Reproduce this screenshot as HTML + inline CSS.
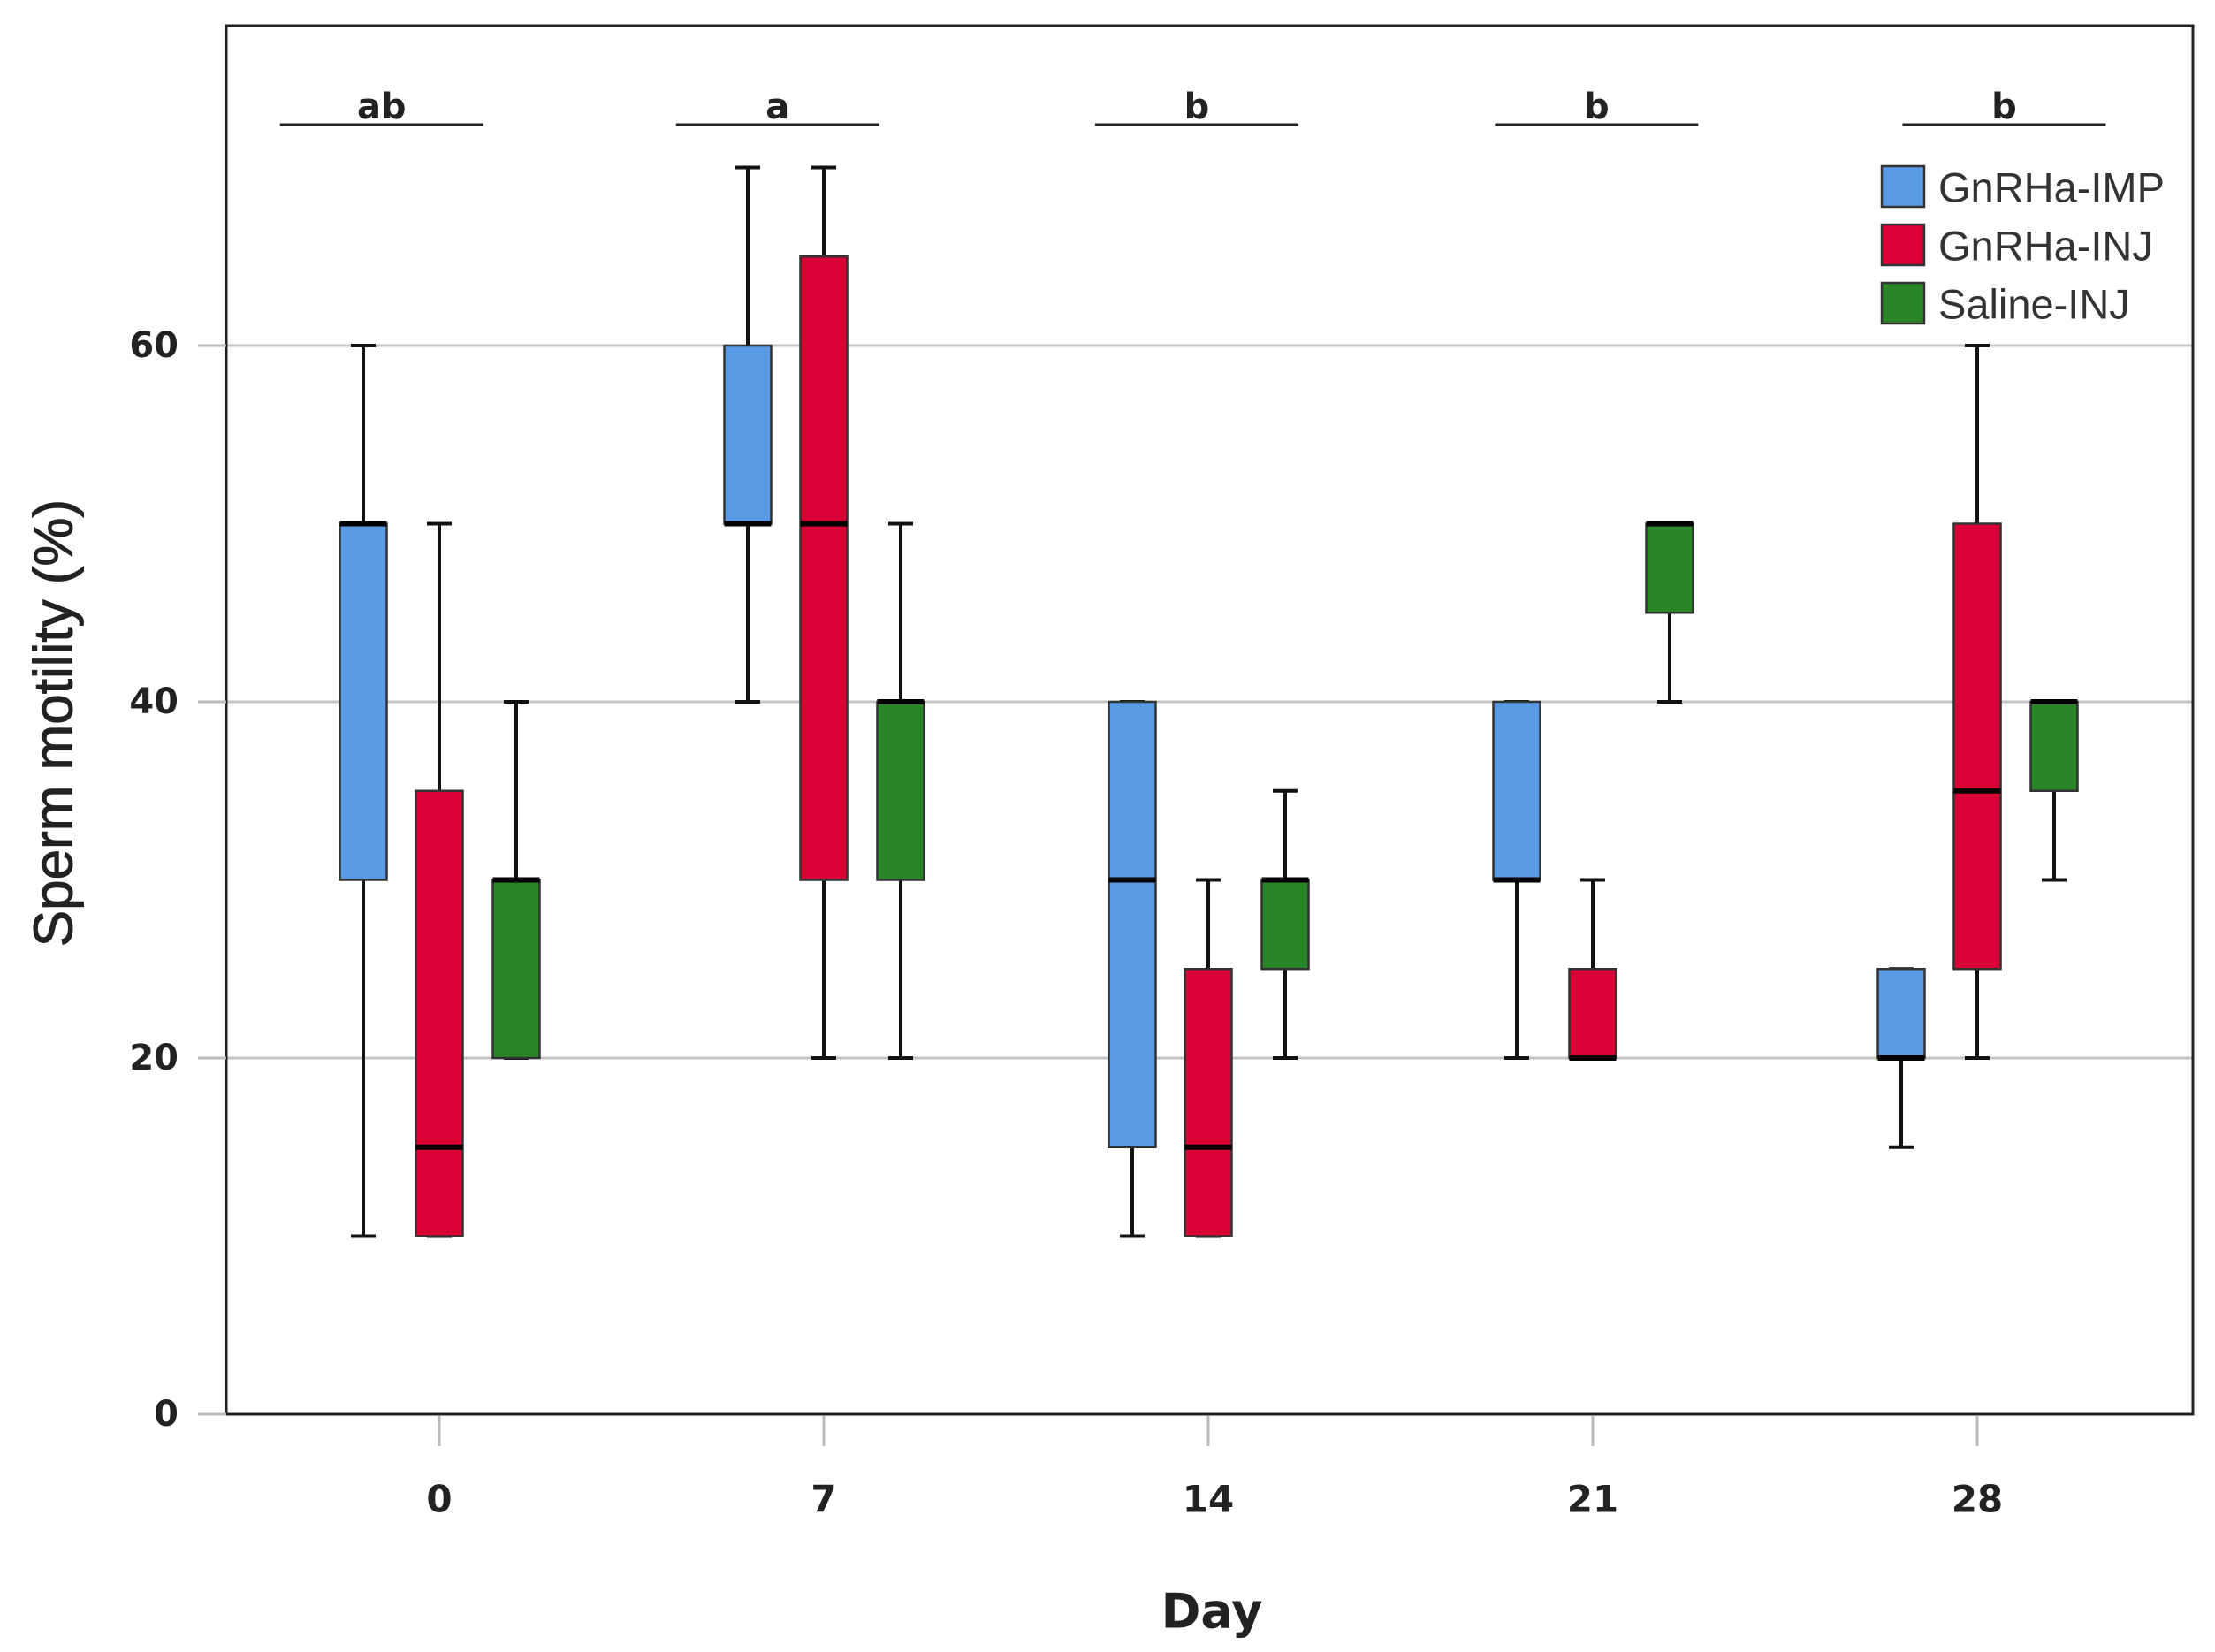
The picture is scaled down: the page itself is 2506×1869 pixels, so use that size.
<!DOCTYPE html>
<html><head><meta charset="utf-8"><style>
html,body{margin:0;padding:0;background:#fff;}
svg{display:block;}
</style></head><body>
<svg id="chart" width="2506" height="1869" viewBox="0 0 2506 1869" xmlns="http://www.w3.org/2000/svg">
<rect x="0" y="0" width="2506" height="1869" fill="#fff"/>
<g id="grid"></g>
<g id="marks"></g>
<rect x="256" y="29" width="2225" height="1571" fill="none" stroke="#222" stroke-width="3"/>
<g id="axes"></g>
<text x="61" y="818" transform="rotate(-90 61 818)" text-anchor="middle" dominant-baseline="central" font-family="Liberation Sans, sans-serif" font-size="62" fill="#222" stroke="#222" stroke-width="1">Sperm motility (%)</text>
<text x="1371" y="1823" text-anchor="middle" dominant-baseline="central" font-family="DejaVu Sans, sans-serif" font-weight="bold" font-size="54" fill="#222">Day</text>
<g id="legend"></g>
</svg>
<script>
const days = ["0","7","14","21","28"];
const groups = ["GnRHa-IMP","GnRHa-INJ","Saline-INJ"];
const colors = ["#5b9be6","#d90036","#2a8528"];
// [low, q1, median, q3, high] per day
const impStats = [[10,30,50,50,60],[40,50,50,60,70],[10,15,30,40,40],[20,30,30,40,40],[15,20,20,25,25]];
const injStats = [[10,10,15,35,50],[20,30,50,65,70],[10,10,15,25,30],[20,20,20,25,30],[20,25,35,50,60]];
const salStats = [[20,20,30,30,40],[20,30,40,40,50],[20,25,30,30,35],[40,45,50,50,50],[30,35,40,40,40]];
const yTicks = [0,20,40,60];
const sigLetters = ["ab","a","b","b","b"];
const sigCenters = [-0.15,0.88,1.97,3.01,4.07];

const NS="http://www.w3.org/2000/svg";
const y = v => 1600 - v*20.15;
const x = i => 497 + i*435;
const offs=[-86,0,87], bw=53;
function el(tag, attrs, parent){const e=document.createElementNS(NS,tag);for(const k in attrs)e.setAttribute(k,attrs[k]);parent.appendChild(e);return e;}
const grid=document.getElementById('grid'), marks=document.getElementById('marks'), axes=document.getElementById('axes'), legend=document.getElementById('legend');

yTicks.forEach(t=>{
  if(t>0){const g=el('line',{x1:256,x2:2481,y1:y(t),y2:y(t),stroke:'#c4c4c4','stroke-width':3},grid);
  
  }
  const tk=el('line',{x1:224,x2:256,y1:y(t),y2:y(t),stroke:'#bbb','stroke-width':3},axes);
  
  
  const tx=el('text',{x:202,y:y(t),'text-anchor':'end','dominant-baseline':'central','font-family':'DejaVu Sans, sans-serif','font-weight':'bold','font-size':40,fill:'#222'},axes);
  tx.textContent=t;
  
  
});
days.forEach((d,i)=>{
  const tk=el('line',{x1:x(i),x2:x(i),y1:1602,y2:1636,stroke:'#bbb','stroke-width':3},axes);
  
  
  const tx=el('text',{x:x(i),y:1696,'text-anchor':'middle','dominant-baseline':'central','font-family':'DejaVu Sans, sans-serif','font-weight':'bold','font-size':42,fill:'#222'},axes);
  tx.textContent=d;
  
  
  const cx=x(sigCenters[i]);
  const sl=el('line',{x1:cx-115,x2:cx+115,y1:141,y2:141,stroke:'#222','stroke-width':3},axes);
  
  
  const st=el('text',{x:cx,y:134,'text-anchor':'middle','font-family':'DejaVu Sans, sans-serif','font-weight':'bold','font-size':40,fill:'#222'},axes);
  st.textContent=sigLetters[i];
  
  
});
[impStats,injStats,salStats].forEach((series,g)=>{
  series.forEach((s,i)=>{
    const c=x(i)+offs[g];
    const grp=el('g',{},marks);
    
    
    el('line',{x1:c,x2:c,y1:y(s[0]),y2:y(s[1]),stroke:'#111','stroke-width':4},grp);
    el('line',{x1:c,x2:c,y1:y(s[3]),y2:y(s[4]),stroke:'#111','stroke-width':4},grp);
    el('line',{x1:c-14,x2:c+14,y1:y(s[0]),y2:y(s[0]),stroke:'#111','stroke-width':4},grp);
    el('line',{x1:c-14,x2:c+14,y1:y(s[4]),y2:y(s[4]),stroke:'#111','stroke-width':4},grp);
    el('rect',{x:c-bw/2,y:y(s[3]),width:bw,height:Math.max(y(s[1])-y(s[3]),1),fill:colors[g],stroke:'#333','stroke-width':2.5},grp);
    el('line',{x1:c-bw/2,x2:c+bw/2,y1:y(s[2]),y2:y(s[2]),stroke:'#000','stroke-width':6},grp);
  });
});
groups.forEach((name,g)=>{
  const yy=188+g*66;
  const r=el('rect',{x:2129,y:yy,width:48,height:46,fill:colors[g],stroke:'#333','stroke-width':2.5},legend);
  
  
  const t=el('text',{x:2193,y:yy+24,'dominant-baseline':'central','font-family':'Liberation Sans, sans-serif','font-size':47,fill:'#333'},legend);
  t.textContent=name;
  
  
});
</script>
</body></html>
